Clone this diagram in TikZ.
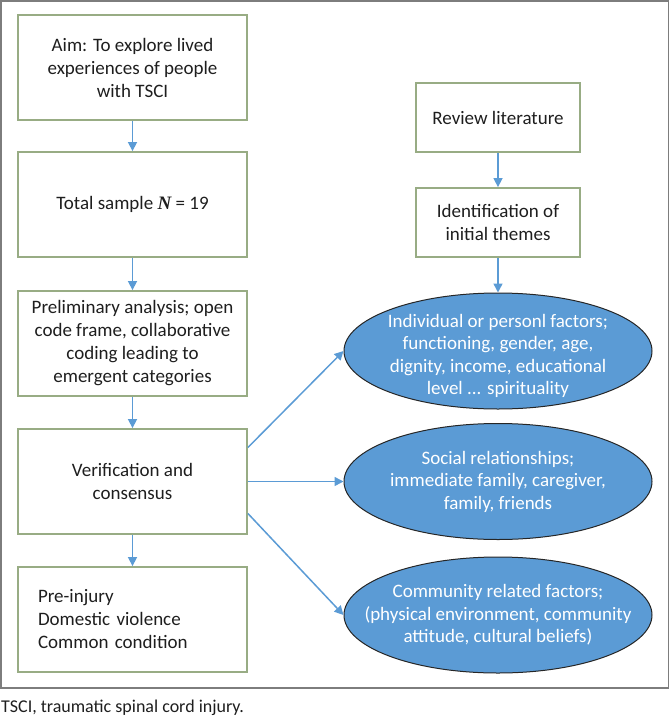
\documentclass[tikz,border=0pt]{standalone}
\usepackage{fontspec}
\setmainfont{Carlito}
\newfontfamily\tnr{Liberation Serif}
\usetikzlibrary{shapes.geometric,arrows.meta}
\definecolor{boxgreen}{RGB}{152,172,132}
\definecolor{arrblue}{RGB}{91,155,213}
\definecolor{ellfill}{RGB}{91,155,213}
\definecolor{framegray}{RGB}{125,125,125}
\definecolor{txt}{RGB}{30,30,30}
\tikzset{
  lbox/.style={draw=boxgreen, line width=1.8pt, minimum width=229pt, minimum height=105pt,
    inner sep=0pt, align=center, text=txt, font=\fontsize{19}{23}\selectfont},
  rbox/.style={draw=boxgreen, line width=1.8pt, minimum width=164pt, minimum height=69pt,
    inner sep=0pt, align=center, text=txt, font=\fontsize{19}{23}\selectfont},
  ell/.style={ellipse, draw=black!85, line width=1pt, fill=ellfill, minimum width=308pt,
    minimum height=116pt, inner sep=0pt},
  elltext/.style={inner sep=0pt, align=center, text=white, font=\fontsize{19}{22.5}\selectfont},
  conn/.style={draw=arrblue, line width=1.5pt, -{Triangle[width=9pt,length=9pt]}},
}
\begin{document}
\begin{tikzpicture}[x=1pt,y=-1pt]
\useasboundingbox (0,0) rectangle (670,718);
\draw[framegray, line width=1.5pt] (1,1) rectangle (668.5,688);
% left column
\node[lbox] (b1) at (132.5,67.5) {Aim: To explore lived\\experiences of people\\with TSCI};
\node[lbox] (b2) at (132.5,204.5) {Total sample {\tnr\bfseries\itshape N} = 19};
\node[lbox] (b3) at (132.5,343.5) {Preliminary analysis; open\\code frame, collaborative\\coding leading to\\emergent categories};
\node[lbox] (b4) at (132.5,481.5) {Verification and\\consensus};
\node[lbox, align=left, text width=189pt, inner xsep=20pt] (b5) at (132.5,619.5) {Pre-injury\\Domestic violence\\Common condition};
% right column
\node[rbox] (r1) at (498,117.5) {Review literature};
\node[rbox] (r2) at (498,222.5) {Identification of\\initial themes};
\node[ell, label={[elltext, yshift=-5pt]center:{Individual or personl factors;\\functioning, gender, age,\\dignity, income, educational\\level ... spirituality}}] (e1) at (498,351) {};
\node[ell, label={[elltext]center:{Social relationships;\\immediate family, caregiver,\\family, friends}}] (e2) at (498,481.5) {};
\node[ell, label={[elltext]center:{Community related factors;\\(physical environment, community\\attitude, cultural beliefs)}}] (e3) at (498,615) {};
% caption
\node[anchor=west, inner sep=0pt, text=txt, font=\fontsize{18}{22}\selectfont] (cap) at (1,708) {TSCI, traumatic spinal cord injury.};
% connectors
\draw[conn] (b1) -- (b2);
\draw[conn] (b2) -- (b3);
\draw[conn] (b3) -- (b4);
\draw[conn] (b4) -- (b5);
\draw[conn] (r1) -- (r2);
\draw[conn] (r2) -- (e1);
\coordinate (s1) at ([yshift=34pt]b4.east);
\coordinate (s3) at ([yshift=-32pt]b4.east);
\draw[conn] (s1) -- (e1.west);
\draw[conn] (b4.east) -- (e2.west);
\draw[conn] (s3) -- (e3.west);
\end{tikzpicture}
\end{document}
